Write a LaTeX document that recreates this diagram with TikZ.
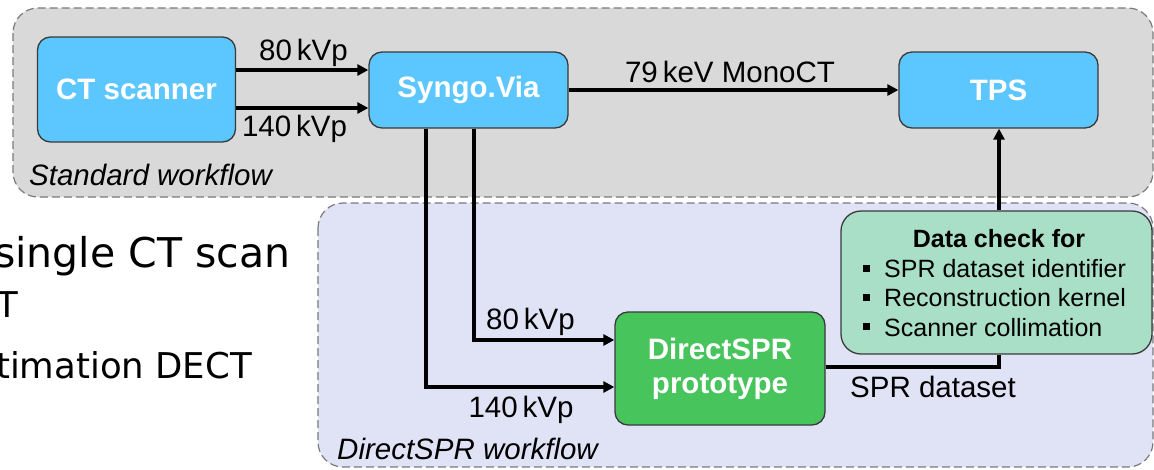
\documentclass[tikz,border=0pt]{standalone}
\usepackage{fontspec}
\setmainfont{Liberation Sans}
\newfontfamily\slidefont{DejaVu Sans}
\usetikzlibrary{arrows.meta}
\definecolor{contgray}{HTML}{D9D9D9}
\definecolor{contlav}{HTML}{E0E3F6}
\definecolor{contedge}{HTML}{7A7A7A}
\definecolor{nodeblue}{HTML}{5CC6FF}
\definecolor{nodegreen}{HTML}{48C45C}
\definecolor{nodemint}{HTML}{A9DFC6}
\definecolor{nodeedge}{HTML}{3A3A3A}
\newcommand\biglbl{\fontsize{29.5}{34}\selectfont}
\newcommand\smalllbl{\fontsize{25}{30}\selectfont}
\tikzset{
  container/.style={draw=contedge, line width=1.2pt, dash pattern=on 8pt off 4pt, rounded corners=25pt},
  procbox/.style={draw=nodeedge, line width=1.3pt, rounded corners=13pt, inner sep=0pt,
    text=white, font=\biglbl\bfseries, align=center},
  conn/.style={line width=3.3pt, black},
  arr/.style={conn, -{Triangle[length=11pt,width=11pt]}},
  lbl/.style={font=\biglbl, inner sep=0pt, anchor=base},
  dctext/.style={font=\smalllbl, inner sep=0pt, anchor=base west},
  bulletsq/.style={fill=black, inner sep=0pt, minimum size=7pt}
}
\begin{document}
\begin{tikzpicture}[x=1pt,y=-1pt]
\useasboundingbox (0,0) rectangle (1154,469);
\clip (0,0) rectangle (1154,469);
% containers
\draw[container, fill=contgray] (13,8) rectangle (1153,197);
\draw[container, fill=contlav] (318,203) rectangle (1153,467);
% slide text (cropped at the left edge, as in the reference)
\node[font=\slidefont\fontsize{41}{48}\selectfont, inner sep=0pt, anchor=base west] (s1) at (-6,267) {single CT scan};
\node[font=\slidefont\fontsize{35.5}{42}\selectfont, inner sep=0pt, anchor=base west] (s2) at (-3.5,317) {T};
\node[font=\slidefont\fontsize{35.5}{42}\selectfont, inner sep=0pt, anchor=base west] (s3) at (-4,378) {timation DECT};
% nodes
\node[procbox, fill=nodeblue, minimum width=198pt, minimum height=105pt] (ct) at (136.5,89.5) {CT scanner};
\node[procbox, fill=nodeblue, minimum width=199pt, minimum height=76pt] (syn) at (468.5,90) {Syngo.Via};
\node[procbox, fill=nodeblue, minimum width=199pt, minimum height=76pt] (tps) at (998.5,90) {TPS};
\node[procbox, fill=nodegreen, minimum width=210pt, minimum height=113pt] (dspr) at (720,368.5) {DirectSPR\\prototype};
\node[draw=nodeedge, line width=1.3pt, rounded corners=20pt, fill=nodemint, minimum width=311pt, minimum height=143pt, inner sep=0pt] (dc) at (996.5,282.5) {};
% data check text
\node[font=\smalllbl\bfseries, inner sep=0pt, anchor=base] (dct) at (999,247) {Data check for};
\node[bulletsq] (b1) at (866,268.5) {};
\node[bulletsq] (b2) at (866,297.5) {};
\node[bulletsq] (b3) at (866,326.5) {};
\node[dctext] (d1) at (884,277) {SPR dataset identifier};
\node[dctext] (d2) at (884,306.5) {Reconstruction kernel};
\node[dctext] (d3) at (884,336) {Scanner collimation};
% connectors
\draw[arr] (ct.east |- 0,70) -- (syn.west |- 0,70);
\draw[arr] (ct.east |- 0,108) -- (syn.west |- 0,108);
\draw[arr] (syn.east) -- (tps.west);
\draw[arr] (syn.south -| 474,0) |- (dspr.west |- 0,340);
\draw[arr] (syn.south -| 426,0) |- (dspr.west |- 0,387);
\draw[conn] (dspr.east |- 0,367) -| (dc.south -| 999,0);
\draw[arr] (dc.north -| 999,0) -- (tps.south -| 999,0);
% labels
\node[lbl] (l80a) at (303.5,60) {80\,kVp};
\node[lbl] (l140a) at (294.5,136) {140\,kVp};
\node[lbl] (lmono) at (730,82) {79\,keV MonoCT};
\node[lbl] (l80b) at (530.5,329) {80\,kVp};
\node[lbl] (l140b) at (521,417) {140\,kVp};
\node[lbl, anchor=base west] (lspr) at (850,397) {SPR dataset};
\node[lbl, anchor=base west, font=\biglbl\itshape] (lstd) at (29,185) {Standard workflow};
\node[lbl, anchor=base west, font=\biglbl\itshape] (ldir) at (337,459) {DirectSPR workflow};
\end{tikzpicture}
\end{document}
